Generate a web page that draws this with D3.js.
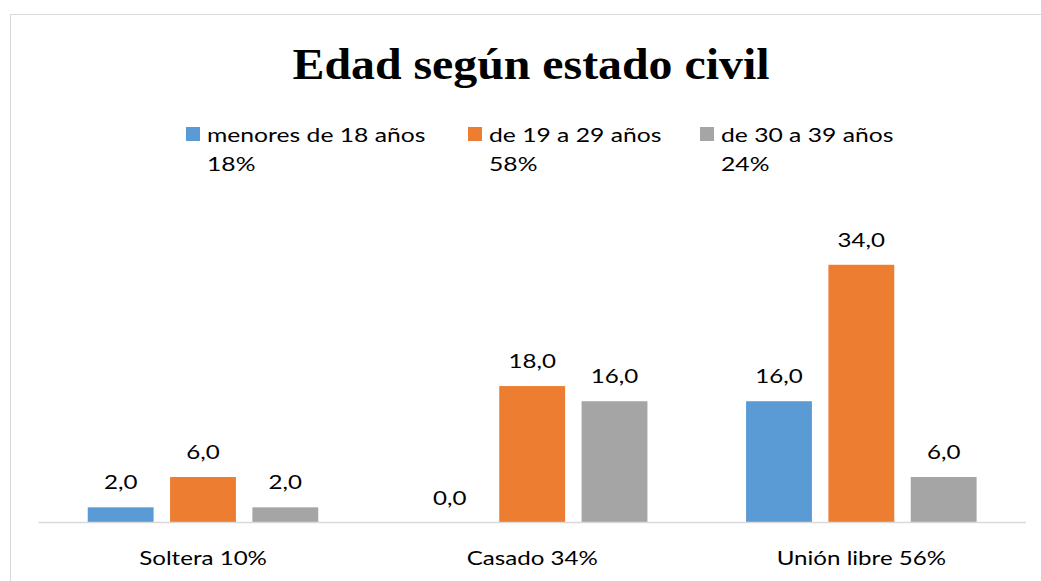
<!DOCTYPE html>
<html>
<head>
<meta charset="utf-8">
<script src="https://cdn.jsdelivr.net/npm/d3@7"></script>
<style>
  body { margin: 0; background: #fff; }
  svg text { font-family: Lato, "Open Sans", sans-serif; fill: #000; }
</style>
</head>
<body>
<div id="chart"></div>
<script>
// data
const categories = ["Soltera 10%", "Casado 34%", "Unión libre 56%"]
const series = ["menores de 18 años", "de 19 a 29 años", "de 30 a 39 años"]
const seriesPct = ["18%", "58%", "24%"]
const colors = ["#5b9bd5", "#ed7d31", "#a5a5a5"]
// values[series][category]
const values = [
  [2, 0, 16],
  [6, 18, 34],
  [2, 16, 6]
]

// layout
const width = 1041, height = 581
const plot = {left: 38.5, right: 1026, top: 219.3, bottom: 522.5}
const sx = 1.27   // the reference text is a bit wider than Lato

const svg = d3.select("#chart")
  .append("svg")
    .attr("width", width)
    .attr("height", height)

// chart border
svg.append("rect")
  .attr("x", 10.5)
  .attr("y", 14.5)
  .attr("width", 1040)
  .attr("height", 580)
  .attr("fill", "none")
  .attr("stroke", "#d9d9d9")
  .attr("stroke-width", 1)

// title
svg.append("text")
  .attr("transform", "translate(531,78.5) scale(1.063,1)")
  .attr("text-anchor", "middle")
  .style("font-family", "'Liberation Serif', 'Times New Roman', serif")
  .style("font-weight", "bold")
  .style("font-size", "45px")
  .text("Edad según estado civil")

// scales
const x0 = d3.scaleBand()
  .domain(categories)
  .range([plot.left, plot.right])

const x1 = d3.scaleBand()
  .domain(d3.range(series.length))
  .range([41, 288])
  .paddingInner(0.2)
  .paddingOuter(0.1)

const y = d3.scaleLinear()
  .domain([0, 40])
  .range([plot.bottom, plot.top])

// bars
const groups = svg.append("g")
  .selectAll("g")
  .data(categories)
  .join("g")
    .attr("transform", d => "translate(" + x0(d) + ",0)")

const cells = groups.selectAll("g")
  .data((c, ci) => series.map((s, si) => ({si: si, v: values[si][ci]})))
  .join("g")

cells.append("rect")
  .attr("x", d => x1(d.si))
  .attr("y", d => y(d.v))
  .attr("width", x1.bandwidth())
  .attr("height", d => y(0) - y(d.v))
  .attr("fill", d => colors[d.si])

cells.append("text")
  .attr("transform", d => "translate(" + (x1(d.si) + x1.bandwidth() / 2) + ","
    + (y(d.v) - 18) + ") scale(" + sx + ",1)")
  .attr("text-anchor", "middle")
  .style("font-size", "19px")
  .text(d => d.v.toFixed(1).replace(".", ","))

// axis line
svg.append("line")
  .attr("x1", plot.left)
  .attr("x2", plot.right)
  .attr("y1", plot.bottom)
  .attr("y2", plot.bottom)
  .attr("stroke", "#d9d9d9")
  .attr("stroke-width", 1.5)

// category labels
svg.append("g")
  .selectAll("text")
  .data(categories)
  .join("text")
    .attr("transform", d => "translate(" + (x0(d) + x0.bandwidth() / 2) + ",565) scale(" + sx + ",1)")
    .attr("text-anchor", "middle")
    .style("font-size", "19px")
    .text(d => d)

// legend
const legendX = [186, 468, 700]
const legend = svg.append("g")
  .selectAll("g")
  .data(series)
  .join("g")
    .attr("transform", (d, i) => "translate(" + legendX[i] + ",127)")

legend.append("rect")
  .attr("width", 14)
  .attr("height", 14)
  .attr("fill", (d, i) => colors[i])

const lt = legend.append("text")
  .attr("transform", "translate(21,0) scale(1.3,1)")
  .style("font-size", "19px")
lt.append("tspan")
  .attr("x", 0)
  .attr("y", 14.5)
  .text(d => d)
lt.append("tspan")
  .attr("x", 0)
  .attr("y", 44.5)
  .text((d, i) => seriesPct[i])
</script>
</body>
</html>
